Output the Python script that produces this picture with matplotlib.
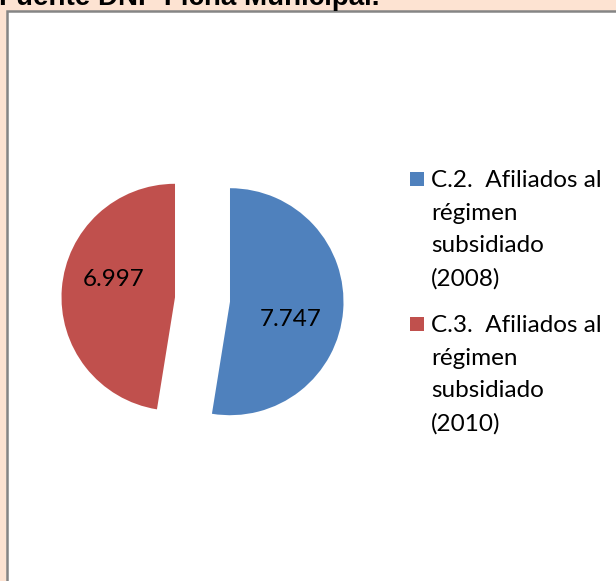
import numpy as np
import matplotlib
matplotlib.use('Agg')
import matplotlib.pyplot as plt
from matplotlib.patches import Rectangle

# datos del grafico
categorias = ['C.2.  Afiliados al\nrégimen\nsubsidiado\n(2008)',
              'C.3.  Afiliados al\nrégimen\nsubsidiado\n(2010)']
valores = [7747, 6997]
etiquetas = ['7.747', '6.997']
colores = ['#4F81BD', '#C0504D']
titulo = 'Fuente DNP Ficha Municipal.'

W, H = 616, 581
fig = plt.figure(figsize=(W / 100, H / 100), dpi=100)
fig.patch.set_facecolor('#FDE3D2')

# area blanca del grafico (se sale por la derecha y por abajo)
fig.patches.append(Rectangle((7 / W, -0.1), 1.0, 1.1 - 11 / H,
                             transform=fig.transFigure, facecolor='white',
                             edgecolor='#858585', lw=1.8, zorder=-5))

# titulo cortado arriba
fig.text(-1 / W, 1 - 5 / H, titulo, fontsize=20, fontweight='bold',
         family='Liberation Sans', ha='left', va='baseline')

# pastel
r_px = 113.5
cx, cy = 202.5, H - 299.5
lim = 1.5
ax = fig.add_axes([(cx - lim * r_px) / W, (cy - lim * r_px) / H,
                   2 * lim * r_px / W, 2 * lim * r_px / H])
ax.patch.set_visible(False)

wedges, _ = ax.pie(valores, colors=colores, startangle=90, counterclock=False,
                   explode=[0.243, 0.243], radius=1.0)
ax.set_xlim(-lim, lim)
ax.set_ylim(-lim, lim)
ax.set_aspect('equal')
ax.axis('off')

for w, txt in zip(wedges, etiquetas):
    ang = np.deg2rad((w.theta1 + w.theta2) / 2 - 12)
    x0, y0 = w.center
    ax.text(x0 + 0.56 * np.cos(ang), y0 + 0.56 * np.sin(ang), txt,
            fontsize=17.5, family='Lato', ha='center', va='center')

# leyenda hecha a mano, linea por linea
base0 = 187
paso = 145
salto = 32.7
for i, (lab, col) in enumerate(zip(categorias, colores)):
    yb = base0 + i * paso
    fig.patches.append(Rectangle((410 / W, (H - yb + 1) / H), 14 / W, 14 / H,
                                 transform=fig.transFigure, facecolor=col,
                                 edgecolor='none'))
    for j, linea in enumerate(lab.split('\n')):
        fig.text(431 / W, (H - yb - j * salto) / H, linea, fontsize=17.5,
                 family='Lato', ha='left', va='baseline')

fig.savefig('out.png', dpi=100, facecolor=fig.get_facecolor())
